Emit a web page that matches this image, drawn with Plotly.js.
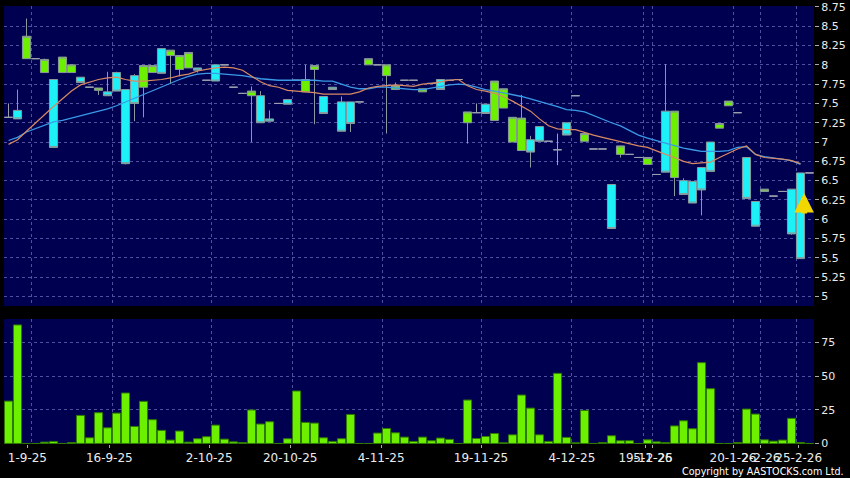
<!DOCTYPE html>
<html><head><meta charset="utf-8">
<script src="https://cdn.plot.ly/plotly-3.0.1.min.js"></script>
<style>html,body{margin:0;padding:0;background:#000;}#chart{width:850px;height:478px;}</style>
</head><body><div id="chart"></div>
<script>
// ---- data ----
const barIndex = [0,1,2,3,4,5,6,7,8,9,10,11,12,13,14,15,16,17,18,19,20,21,22,23,24,25,26,27,28,29,
  30,31,32,33,34,35,36,37,38,39,40,41,42,43,44,45,46,47,48,49,50,51,52,53,54,55,56,57,58,59,
  60,61,62,63,64,65,66,67,68,69,70,71,72,73,74,75,76,77,78,79,80,81,82,83,84,85,86,87,88,89];
const openP = [7.32,7.41,8.08,8.08,7.90,7.81,7.90,7.90,7.84,7.71,7.67,7.65,7.90,7.68,7.86,7.71,7.90,8.21,8.12,7.94,
  7.96,7.96,7.80,8.00,8.00,7.71,7.63,7.60,7.60,7.30,7.50,7.55,7.80,7.65,7.94,7.59,7.71,7.52,7.52,7.52,
  8.00,8.00,7.86,7.68,7.80,7.80,7.65,7.76,7.81,7.80,7.81,7.25,7.38,7.49,7.28,7.44,7.00,6.89,7.03,7.20,
  7.01,6.90,7.25,7.60,7.01,6.91,6.91,6.45,6.84,6.84,6.80,6.71,6.58,7.40,6.54,6.50,6.49,6.67,7.00,7.18,
  7.47,7.38,6.80,6.23,6.36,6.30,6.36,6.39,6.60,6.60];
const highP = [7.50,7.68,8.60,8.08,8.08,7.81,8.10,8.00,7.84,7.71,7.70,7.91,7.91,7.68,7.88,7.99,7.99,8.21,8.19,8.12,
  8.16,7.96,7.80,8.00,8.00,7.71,7.63,7.72,7.66,7.41,7.50,7.55,7.80,8.00,7.99,7.59,7.71,7.59,7.52,7.52,
  8.08,8.00,8.00,7.77,7.80,7.80,7.69,7.76,7.81,7.80,7.81,7.39,7.50,7.49,7.79,7.69,7.32,7.61,7.08,7.20,
  7.01,7.11,7.25,7.60,7.11,6.91,6.91,6.45,6.95,6.84,6.80,6.80,6.58,8.01,7.40,6.53,6.49,6.67,7.00,7.24,
  7.53,7.38,6.80,6.23,6.39,6.30,6.36,6.39,6.60,6.60];
const lowP = [7.32,7.30,8.08,8.08,7.90,6.93,7.90,7.90,7.77,7.71,7.61,7.60,7.66,6.71,7.27,7.32,7.90,7.89,7.75,7.85,
  7.96,7.90,7.80,7.79,8.00,7.71,7.63,7.00,7.25,7.27,7.50,7.49,7.80,7.65,7.23,7.37,7.68,7.14,7.13,7.52,
  8.00,8.00,7.11,7.68,7.80,7.80,7.65,7.76,7.68,7.80,7.81,6.98,7.38,7.37,7.28,7.44,7.00,6.89,6.67,7.01,
  7.01,6.70,7.09,7.60,7.01,6.91,6.91,5.88,6.80,6.84,6.80,6.71,6.58,6.61,6.30,6.32,6.21,6.05,6.62,7.18,
  7.47,7.38,6.27,5.91,6.36,6.30,6.36,5.80,5.49,6.60];
const closeP = [7.32,7.30,8.37,8.08,8.07,6.93,8.10,8.00,7.77,7.71,7.70,7.60,7.66,6.72,7.50,7.99,7.99,7.89,8.19,8.12,
  8.16,7.93,7.80,7.79,8.00,7.71,7.63,7.66,7.25,7.27,7.50,7.49,7.80,7.81,7.99,7.37,7.68,7.14,7.24,7.52,
  8.08,8.00,8.00,7.73,7.80,7.80,7.69,7.76,7.68,7.80,7.81,7.39,7.38,7.37,7.79,7.69,7.32,7.31,6.87,7.01,
  7.01,6.90,7.09,7.60,7.11,6.91,6.91,5.88,6.95,6.84,6.80,6.80,6.58,6.61,7.40,6.32,6.21,6.38,6.62,7.24,
  7.53,7.38,6.27,5.91,6.39,6.30,6.36,5.81,5.49,6.60];
const volume = [31.4,87.9,0,0,1.0,1.5,0,0.7,20.8,4.2,22.8,11.6,22.5,37.4,12.6,31.2,17.6,9.7,2.5,9.2,
  1.0,3.5,5.0,13.6,3.2,1.2,0.7,24.8,14.4,16.1,0,3.5,38.9,15.6,15.1,4.2,1.5,3.5,21.5,0,
  0,7.7,11.1,7.9,4.7,1.5,4.7,2.0,4.0,3.0,0,32.2,3.7,5.2,7.4,0.5,6.4,35.9,26.2,6.4,
  1.5,52.0,4.5,0.5,24.5,0,0.7,5.7,2.0,2.0,0,2.7,1.2,0.7,13.0,16.8,10.9,59.9,40.6,0,
  0,0.7,25.5,21.8,2.7,1.7,2.5,18.6,0.7,0];
const maShort = [6.97,7.03,7.14,7.25,7.36,7.46,7.56,7.66,7.74,7.78,7.81,7.83,7.84,7.81,7.79,7.79,7.80,7.81,7.83,7.86,
  7.88,7.92,7.94,7.96,7.97,7.96,7.93,7.85,7.78,7.73,7.71,7.67,7.66,7.65,7.64,7.62,7.62,7.62,7.62,7.65,
  7.70,7.72,7.73,7.74,7.73,7.72,7.75,7.76,7.78,7.80,7.81,7.73,7.68,7.66,7.63,7.59,7.53,7.46,7.40,7.30,
  7.21,7.17,7.16,7.16,7.12,7.09,7.06,7.03,7.00,6.97,6.95,6.93,6.88,6.84,6.80,6.75,6.72,6.73,6.74,6.80,
  6.86,6.91,6.95,6.84,6.80,6.79,6.78,6.76,6.72];
const maLong = [7.02,7.06,7.13,7.17,7.21,7.26,7.28,7.31,7.34,7.37,7.40,7.43,7.47,7.52,7.57,7.61,7.66,7.72,7.77,7.81,
  7.85,7.88,7.89,7.89,7.88,7.87,7.86,7.84,7.82,7.81,7.80,7.80,7.80,7.80,7.80,7.79,7.79,7.75,7.71,7.69,
  7.69,7.71,7.71,7.70,7.69,7.68,7.68,7.70,7.72,7.74,7.75,7.74,7.71,7.68,7.66,7.64,7.61,7.59,7.56,7.53,
  7.50,7.46,7.42,7.41,7.39,7.34,7.30,7.25,7.21,7.15,7.09,7.05,7.02,6.99,6.95,6.92,6.90,6.88,6.88,6.88,
  6.89,6.93,6.94,6.84,6.81,6.79,6.78,6.76,6.71];
const tickLabels = ['1-9-25','16-9-25','2-10-25','20-10-25','4-11-25','19-11-25','4-12-25','19-12-25','5-1-26','20-1-26','2-2-26','25-2-26'];
const tickAt = [2.1,11.2,22.3,31.3,41.4,52.5,62.6,70.8,71.6,80.5,83.6,87.8];
const gridAt = [2.5,11.5,22.5,31.5,41.5,52.5,62.5,70.5,71.5,80.5,83.5,87.5];
const signalBar = [88.4];
const signalPrice = [6.34];

// ---- build ----
function pick(cond){
  const o={x:[],open:[],high:[],low:[],close:[]};
  barIndex.forEach((b,i)=>{ if(cond(openP[i],closeP[i])){o.x.push(b);o.open.push(openP[i]);o.high.push(highP[i]);o.low.push(lowP[i]);o.close.push(closeP[i]);} });
  return o;
}
const up=pick((o,c)=>c>o), dn=pick((o,c)=>c<o), flat=pick((o,c)=>c===o);
const edge='#8a9a9c';
function candle(d, fill, line){
  return Object.assign({type:'candlestick', xaxis:'x', yaxis:'y', hoverinfo:'skip', whiskerwidth:0,
    increasing:{fillcolor:fill, line:{color:line,width:1}},
    decreasing:{fillcolor:fill, line:{color:line,width:1}}}, d);
}
const traces=[
  candle(flat,'#9aa0ac','#9aa0ac'),
  candle(up,'#6cf000',edge),
  candle(dn,'#1ef0f8',edge),
  {type:'scatter',mode:'lines',x:barIndex.slice(0,maLong.length),y:maLong,line:{color:'#3a9ae8',width:1.3},xaxis:'x',yaxis:'y',hoverinfo:'skip'},
  {type:'scatter',mode:'lines',x:barIndex.slice(0,maShort.length),y:maShort,line:{color:'#d98a62',width:1.2},xaxis:'x',yaxis:'y',hoverinfo:'skip'},
  {type:'bar',x:barIndex,y:volume,xaxis:'x2',yaxis:'y2',marker:{color:'#6cf000',line:{color:'#2f7a00',width:1}},hoverinfo:'skip'},
  {type:'scatter',mode:'markers',x:[tickAt[0]],y:[0],xaxis:'x3',yaxis:'y2',marker:{opacity:0},hoverinfo:'skip'}
];
const gridStyle={gridcolor:'#5050a0',griddash:'3px,3px',gridwidth:1};
const tickFont={family:'DejaVu Sans',size:11,color:'#ececec'};
const layout={
  width:850,height:478,
  paper_bgcolor:'#000000',plot_bgcolor:'#000050',
  margin:{l:4,r:36,t:6,b:34},
  showlegend:false, boxgap:0.1, boxgroupgap:0, bargap:0.1,
  xaxis:Object.assign({domain:[0,1],anchor:'y',range:[-0.5,89.5],tickmode:'array',tickvals:gridAt,showticklabels:false,ticks:'',zeroline:false,showline:false,rangeslider:{visible:false}},gridStyle),
  xaxis2:Object.assign({domain:[0,1],anchor:'y2',matches:'x',range:[-0.5,89.5],tickmode:'array',tickvals:gridAt,showticklabels:false,ticks:'',zeroline:false,showline:false},gridStyle),
  xaxis3:{overlaying:'x2',anchor:'y2',range:[-0.5,89.5],tickmode:'array',tickvals:tickAt,ticktext:tickLabels,showgrid:false,zeroline:false,showline:false,ticks:'outside',ticklen:3,tickcolor:'#aaaaaa',tickfont:{family:'DejaVu Sans',size:12,color:'#ececec'},tickangle:0,ticklabelstandoff:0},
  yaxis:Object.assign({domain:[0.315,1],anchor:'x',side:'right',range:[4.876,8.762],tickmode:'linear',tick0:5,dtick:0.25,ticks:'outside',ticklen:4,tickcolor:'#aaaaaa',tickfont:tickFont,zeroline:false,showline:false,ticklabeloverflow:'allow'},gridStyle),
  yaxis2:Object.assign({domain:[0,0.2854],anchor:'x2',side:'right',range:[-0.4,92.3],tickmode:'array',tickvals:[0,25,50,75],ticks:'outside',ticklen:4,tickcolor:'#aaaaaa',tickfont:tickFont,zeroline:false,showline:false},gridStyle),
  annotations:[
    {xref:'paper',yref:'paper',x:1.04,y:-0.046,xanchor:'right',yanchor:'top',text:'Copyright by AASTOCKS.com Ltd.',showarrow:false,font:{family:'DejaVu Sans',size:9.6,color:'#ffffff'}},
    {xref:'x',yref:'y',x:signalBar[0],y:signalPrice[0],ax:0,ay:22,showarrow:true,arrowhead:2,arrowsize:0.65,arrowwidth:6,arrowcolor:'#f2d600',text:''}
  ]
};
Plotly.newPlot('chart',traces,layout,{displayModeBar:false,staticPlot:true});
</script></body></html>
